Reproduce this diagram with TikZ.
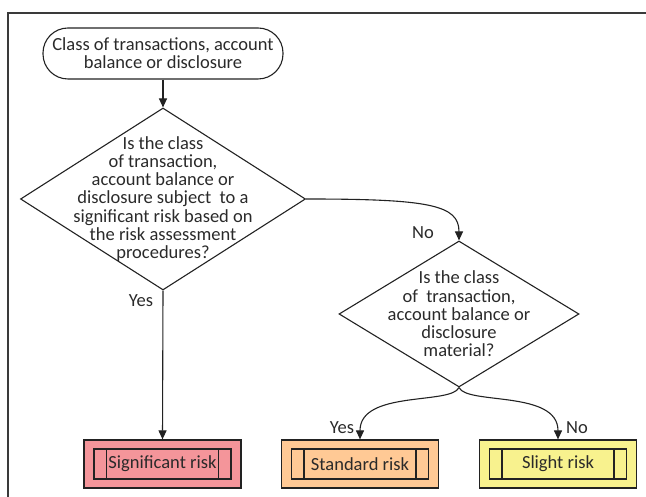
\documentclass[tikz,border=0pt]{standalone}
\usepackage{fontspec}
\setmainfont{Carlito}
\usetikzlibrary{shapes.geometric,arrows.meta}
\definecolor{ink}{HTML}{222222}
\definecolor{txt}{HTML}{2A2A2A}
\definecolor{framec}{HTML}{3A3A3A}
\definecolor{sigfill}{HTML}{F4959A}
\definecolor{stdfill}{HTML}{FFC995}
\definecolor{slifill}{HTML}{F8F28E}
\begin{document}
\begin{tikzpicture}[x=1pt,y=1pt,
  every node/.style={font=\fontsize{18.5}{18.3}\selectfont, text=txt},
  conn/.style={draw=ink, line width=1.1pt},
  arr/.style={conn, -{Triangle[length=9pt,width=8pt]}},
  startbox/.style={draw=ink, line width=1.1pt, rounded corners=25pt,
    minimum width=240pt, minimum height=51pt, inner sep=0pt, align=center},
  decision/.style={draw=ink, line width=1.1pt, diamond, inner sep=0pt},
  qtext/.style={align=center, inner sep=0pt},
  lbl/.style={inner sep=0pt},
  riskbox/.style={draw=ink, line width=1.2pt, minimum width=157pt,
    minimum height=48pt, inner sep=0pt,
    path picture={
      \draw[ink, line width=1.1pt]
        ([xshift=10pt,yshift=-9pt]path picture bounding box.north west)
        rectangle ([xshift=-10pt,yshift=9pt]path picture bounding box.south east);
      \draw[ink, line width=1.1pt]
        ([xshift=22.5pt,yshift=-9pt]path picture bounding box.north west)
        -- ([xshift=22.5pt,yshift=9pt]path picture bounding box.south west);
      \draw[ink, line width=1.1pt]
        ([xshift=-22.5pt,yshift=-9pt]path picture bounding box.north east)
        -- ([xshift=-22.5pt,yshift=9pt]path picture bounding box.south east);
    }}
]
\useasboundingbox (0,0) rectangle (646,497);
% frame
\coordinate (fc) at (8,484);
\coordinate (fr) at (646,484);
\coordinate (fb) at (8,0);
\draw[framec, line width=1.4pt] (fr) -- (fc) -- (fb);

% nodes
\node[startbox] (start) at (163,443.5) {Class of transactions, account\\balance or disclosure};

\node[decision, minimum width=285pt, minimum height=182pt] (d1) at (163,298) {};
\node[qtext] (d1t) at (d1.center) {Is the class\\of transaction,\\account balance or\\disclosure subject\ \ to a\\significant risk based on\\the risk assessment\\procedures?};

\node[decision, minimum width=240pt, minimum height=146pt] (d2) at (459,183) {};
\node[qtext] (d2t) at (d2.center) {Is the class\\of\ \ transaction,\\account balance or\\disclosure\\material?};

\node[riskbox, fill=sigfill] (sig) at (162.5,33) {Significant risk};
\node[riskbox, fill=stdfill] (std) at (360,33) {Standard risk};
\node[riskbox, fill=slifill] (sli) at (558,33) {Slight risk};

% labels
\node[lbl] (yes1) at (141,196) {Yes};
\node[lbl] (no1) at (423,264) {No};
\node[lbl] (yes2) at (342,69) {Yes};
\node[lbl] (no2) at (577,69) {No};

% connectors
\draw[arr] (start.south) -- (d1.north);
\draw[arr] (d1.south) -- (sig.north);
\draw[arr] (d1.east) .. controls (430,298) and (459,292) .. (d2.north);
\draw[arr] (d2.south) .. controls (451,92) and (360,107) .. (std.north);
\draw[arr] (d2.south) .. controls (467,92) and (558,107) .. (sli.north);
\end{tikzpicture}
\end{document}
